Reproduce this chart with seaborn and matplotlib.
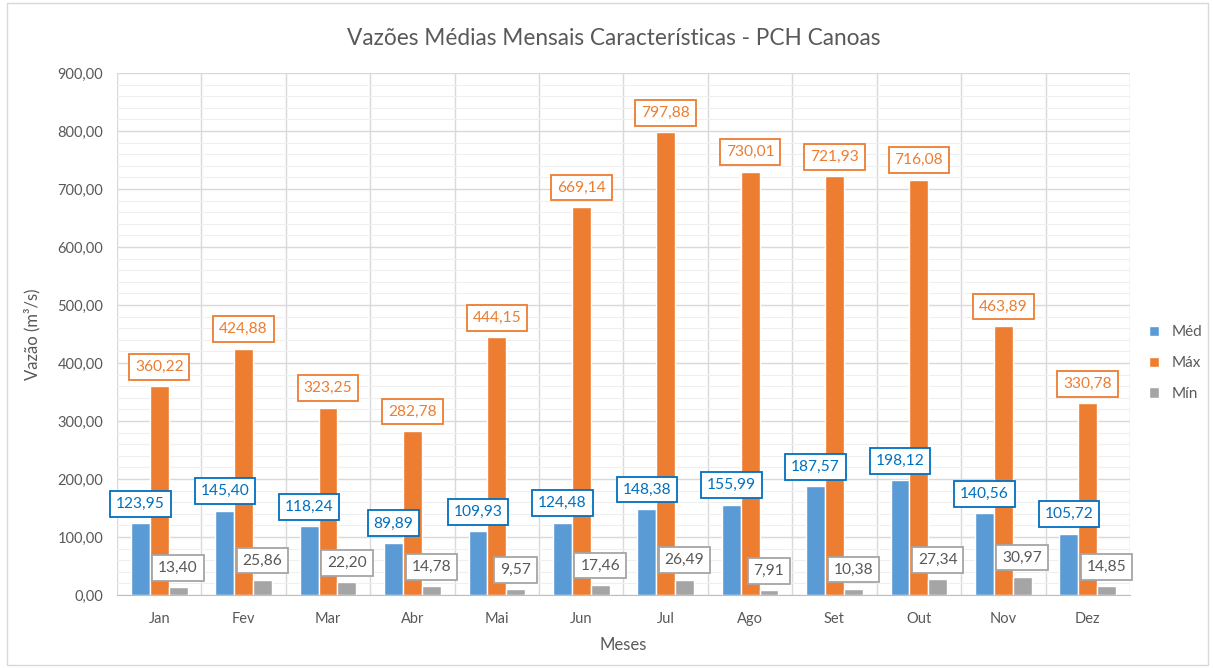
import matplotlib
matplotlib.use("Agg")
import matplotlib.pyplot as plt
from matplotlib.patches import Rectangle
from matplotlib.ticker import MultipleLocator, FuncFormatter
import seaborn as sns
import pandas as pd

meses = ["Jan", "Fev", "Mar", "Abr", "Mai", "Jun", "Jul", "Ago", "Set", "Out", "Nov", "Dez"]
med = [123.95, 145.40, 118.24, 89.89, 109.93, 124.48, 148.38, 155.99, 187.57, 198.12, 140.56, 105.72]
maxv = [360.22, 424.88, 323.25, 282.78, 444.15, 669.14, 797.88, 730.01, 721.93, 716.08, 463.89, 330.78]
minv = [13.40, 25.86, 22.20, 14.78, 9.57, 17.46, 26.49, 7.91, 10.38, 27.34, 30.97, 14.85]
series = ["Méd", "Máx", "Mín"]

sns.set_style("white")
plt.rcParams["font.family"] = ["Lato", "DejaVu Sans"]

df = pd.DataFrame({
    "Mês": meses * 3,
    "Série": [s for s in series for _ in meses],
    "Vazão": med + maxv + minv,
})

bar_colors = {"Méd": "#5B9BD5", "Máx": "#ED7D31", "Mín": "#A5A5A5"}
label_text = {"Méd": "#0070C0", "Máx": "#ED7D31", "Mín": "#595959"}
label_edge = {"Méd": "#0070C0", "Máx": "#ED7D31", "Mín": "#A5A5A5"}

fig = plt.figure(figsize=(12.13, 6.68), dpi=100)
ax = fig.add_axes([0.0965, 0.1093, 0.835, 0.7814])

sns.barplot(data=df, x="Mês", y="Vazão", hue="Série", hue_order=series,
            order=meses, palette=bar_colors, width=0.67, gap=0,
            saturation=1, ax=ax, legend=True)

ax.set_ylim(0, 900)
ax.set_xlim(-0.5, len(meses) - 0.5)
ax.yaxis.set_major_locator(MultipleLocator(100))
ax.yaxis.set_minor_locator(MultipleLocator(20))
ax.yaxis.set_major_formatter(FuncFormatter(lambda v, p: f"{v:.2f}".replace(".", ",")))
ax.grid(which="major", axis="y", color="#D9D9D9", linewidth=1)
ax.grid(which="minor", axis="y", color="#EFEFEF", linewidth=0.8)
for b in range(len(meses) + 1):
    ax.axvline(b - 0.5, color="#D9D9D9", linewidth=1, zorder=0)
ax.set_axisbelow(True)
for s in ["top", "right", "left"]:
    ax.spines[s].set_visible(False)
ax.spines["bottom"].set_color("#BFBFBF")
ax.tick_params(axis="both", which="both", length=0, colors="#595959", labelsize=10.5)
ax.tick_params(axis="x", pad=12)
ax.tick_params(axis="y", pad=10)

# data labels in framed boxes above each bar
for container, name in zip(ax.containers, series):
    for rect in container:
        h = rect.get_height()
        ax.annotate(f"{h:.2f}".replace(".", ","),
                    xy=(rect.get_x() + rect.get_width() / 2, h),
                    xytext=(0, 14), textcoords="offset points",
                    ha="center", va="center", fontsize=11.2,
                    color=label_text[name], zorder=5,
                    bbox=dict(boxstyle="square,pad=0.38", fc="white",
                              ec=label_edge[name], lw=1.3))

ax.set_xlabel("Meses", fontsize=12, color="#595959", labelpad=8)
ax.set_ylabel("Vazão (m³/s)", fontsize=12, color="#595959", labelpad=12)
fig.text(0.506, 0.943, "Vazões Médias Mensais Características - PCH Canoas",
         ha="center", va="center", fontsize=16.3, color="#595959")

leg = ax.legend(loc="center left", bbox_to_anchor=(1.005, 0.444), frameon=False,
                handlelength=0.7, handleheight=0.7, labelspacing=1.1,
                fontsize=11, labelcolor="#595959", title=None)

fig.patches.append(Rectangle((0.006, 0.004), 0.99, 0.992, transform=fig.transFigure,
                             fill=False, ec="#D9D9D9", lw=1))

fig.savefig("out.png", dpi=100)
